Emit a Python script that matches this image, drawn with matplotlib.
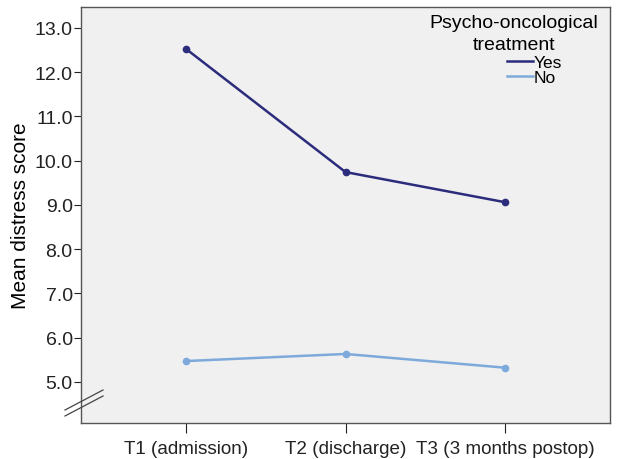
import matplotlib
matplotlib.use("Agg")
import matplotlib.pyplot as plt
from matplotlib.lines import Line2D

plt.rcParams['font.family'] = ['Liberation Sans', 'DejaVu Sans']

categories = ["T1 (admission)", "T2 (discharge)", "T3 (3 months postop)"]
yes_values = [12.52, 9.74, 9.06]
no_values = [5.47, 5.63, 5.32]
series_labels = ["Yes", "No"]
legend_title = ["Psycho-oncological", "treatment"]
y_ticks = [5.0, 6.0, 7.0, 8.0, 9.0, 10.0, 11.0, 12.0, 13.0]

yes_color = "#2c2c7c"
no_color = "#7eaadb"

fig = plt.figure(figsize=(6.18, 4.6), dpi=100)
ax = fig.add_axes([81/618, 36/460, (610-81)/618, (424-8)/460])
ax.set_facecolor("#f0f0f0")

x = list(range(len(categories)))
ax.plot(x, yes_values, color=yes_color, lw=1.8, marker='o', ms=4.5, label=series_labels[0])
ax.plot(x, no_values, color=no_color, lw=1.8, marker='o', ms=4.5, label=series_labels[1])

ax.set_xlim(-0.66, 2.66)
ax.set_ylim(4.07, 13.47)
ax.set_xticks(x)
ax.set_xticklabels(categories, fontsize=13.6)
ax.set_yticks(y_ticks)
ax.set_yticklabels([f"{v:.1f}" for v in y_ticks], fontsize=14)
ax.tick_params(axis='y', direction='out', length=5, width=0.8, colors='#222222', pad=1)
ax.tick_params(axis='x', direction='out', length=7, width=0.8, colors='#222222', pad=5)
ax.set_ylabel("Mean distress score", fontsize=15, labelpad=3)
for s in ax.spines.values():
    s.set_color("#555555")
    s.set_linewidth(1.0)

# axis break marks
trans = fig.transFigure
for dy in (0, 6):
    line = Line2D([65/618, 103/618], [(460-417+dy)/460, (460-397+dy)/460], transform=trans,
                  color="#444444", lw=0.9)
    fig.add_artist(line)

fig.text(514/618, 1-28/460, legend_title[0], ha='center', va='baseline', fontsize=14)
fig.text(514/618, 1-50/460, legend_title[1], ha='center', va='baseline', fontsize=14)
handles = [Line2D([], [], color=yes_color, lw=1.8), Line2D([], [], color=no_color, lw=1.8)]
leg = ax.legend(handles, series_labels, loc='upper left', bbox_to_anchor=(507/618, 1-56/460),
                bbox_transform=fig.transFigure, frameon=False, fontsize=12.5,
                handlelength=1.5, handletextpad=0.05, labelspacing=0.0, borderpad=0, borderaxespad=0)

fig.savefig("out.png", dpi=100, facecolor='white')
